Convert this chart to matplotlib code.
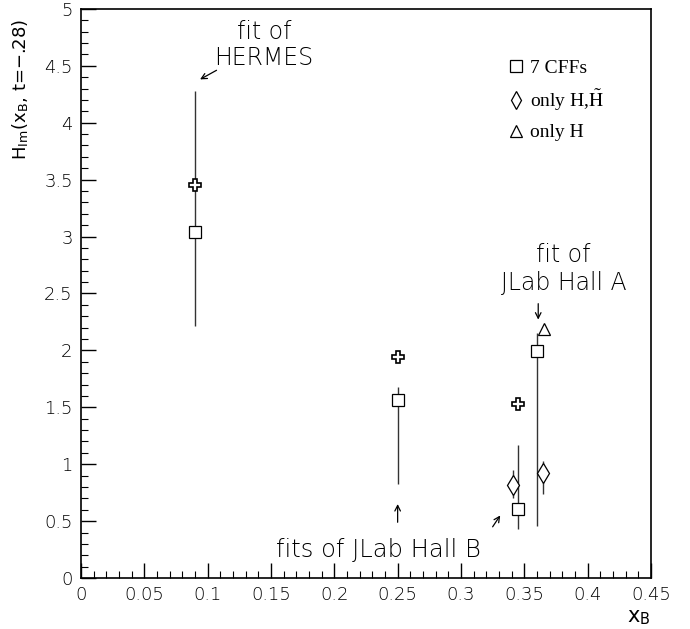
import matplotlib
matplotlib.use('Agg')
import matplotlib.pyplot as plt
from matplotlib.lines import Line2D
from matplotlib.ticker import MultipleLocator

plt.rcParams['font.family'] = 'DejaVu Sans'
plt.rcParams['font.weight'] = 'light'
plt.rcParams['mathtext.fontset'] = 'stix'

# 7 CFFs fit (squares)
cff7_x = [0.09, 0.25, 0.345, 0.36]
cff7_y = [3.04, 1.56, 0.61, 1.99]
cff7_lo = [2.21, 0.83, 0.43, 0.46]
cff7_hi = [4.28, 1.68, 1.17, 2.15]

# crosses (no error bars shown)
cross_x = [0.09, 0.25, 0.345]
cross_y = [3.45, 1.94, 1.53]

# only H, H-tilde (diamonds)
hht_x = [0.341, 0.365]
hht_y = [0.82, 0.92]
hht_lo = [0.70, 0.74]
hht_hi = [0.95, 1.03]

# only H (triangle)
h_x = [0.3655]
h_y = [2.19]

lc = '#333333'

fig = plt.figure(figsize=(6.9, 6.29), dpi=100)
ax = fig.add_axes([0.1174, 0.081, 0.826, 0.905])

yerr = [[y - l for y, l in zip(cff7_y, cff7_lo)], [h - y for y, h in zip(cff7_y, cff7_hi)]]
ax.errorbar(cff7_x, cff7_y, yerr=yerr, fmt='none', ecolor=lc, elinewidth=1.0, capsize=0)
yerr2 = [[y - l for y, l in zip(hht_y, hht_lo)], [h - y for y, h in zip(hht_y, hht_hi)]]
ax.errorbar(hht_x, hht_y, yerr=yerr2, fmt='none', ecolor=lc, elinewidth=1.0, capsize=0)

ax.plot(cff7_x, cff7_y, 's', ms=9, mfc='white', mec='black', mew=0.9, ls='none', zorder=5)
ax.plot(cross_x, cross_y, 'P', ms=8, mfc='white', mec='black', mew=1.2, ls='none', zorder=5)
ax.plot(hht_x, hht_y, 'd', ms=10, mfc='white', mec='black', mew=0.9, ls='none', zorder=5)
ax.plot(h_x, h_y, '^', ms=9, mfc='white', mec='black', mew=0.9, ls='none', zorder=5)

ax.set_xlim(0, 0.45)
ax.set_ylim(0, 5)
ax.xaxis.set_major_locator(MultipleLocator(0.05))
ax.xaxis.set_minor_locator(MultipleLocator(0.01))
ax.yaxis.set_major_locator(MultipleLocator(0.5))
ax.yaxis.set_minor_locator(MultipleLocator(0.1))
ax.tick_params(which='both', direction='in', top=False, right=False, labelsize=13, pad=6)
ax.tick_params(which='major', length=11, width=1)
ax.tick_params(which='minor', length=5, width=0.8)
ax.set_xticklabels([f'{v:g}' for v in ax.get_xticks()])
ax.set_yticklabels([f'{v:g}' for v in ax.get_yticks()])
for s in ax.spines.values():
    s.set_linewidth(1.2)

ax.set_xlabel('x$_{\\mathregular{B}}$', fontsize=15, loc='right', labelpad=2)
ax.set_ylabel('H$_{\\mathregular{Im}}$(x$_{\\mathregular{B}}$, t=\u2212.28)', fontsize=13, loc='top')
ax.yaxis.set_label_coords(-0.088, 0.983)

# annotations
arr = dict(arrowstyle='->', color='black', lw=0.9, shrinkA=0, shrinkB=0)
ax.text(0.1445, 4.80, 'fit of', fontsize=17, ha='center', va='center')
ax.text(0.1445, 4.57, 'HERMES', fontsize=17, ha='center', va='center')
ax.annotate('', xy=(0.094, 4.38), xytext=(0.107, 4.46), arrowprops=arr)

ax.text(0.2345, 0.245, 'fits of JLab Hall B', fontsize=17.5, ha='center', va='center')
ax.annotate('', xy=(0.25, 0.65), xytext=(0.25, 0.49), arrowprops=arr)
ax.annotate('', xy=(0.331, 0.55), xytext=(0.325, 0.45), arrowprops=arr)

ax.text(0.381, 2.84, 'fit of', fontsize=17, ha='center', va='center')
ax.text(0.381, 2.59, 'JLab Hall A', fontsize=17, ha='center', va='center')
ax.annotate('', xy=(0.361, 2.27), xytext=(0.361, 2.41), arrowprops=arr)

handles = [
    Line2D([], [], marker='s', ms=8, mfc='white', mec='black', mew=0.9, ls='none'),
    Line2D([], [], marker='d', ms=9, mfc='white', mec='black', mew=0.9, ls='none'),
    Line2D([], [], marker='^', ms=8, mfc='white', mec='black', mew=0.9, ls='none'),
]
labels = ['7 CFFs', 'only H,$\\tilde{\\mathrm{H}}$', 'only H']
ax.legend(handles, labels, loc='upper left', bbox_to_anchor=(0.74, 0.925), frameon=False,
          prop={'family': 'Liberation Serif', 'size': 14}, handlelength=0.6,
          handletextpad=0.4, labelspacing=0.55, borderaxespad=0)

fig.savefig('out.png', dpi=100)
